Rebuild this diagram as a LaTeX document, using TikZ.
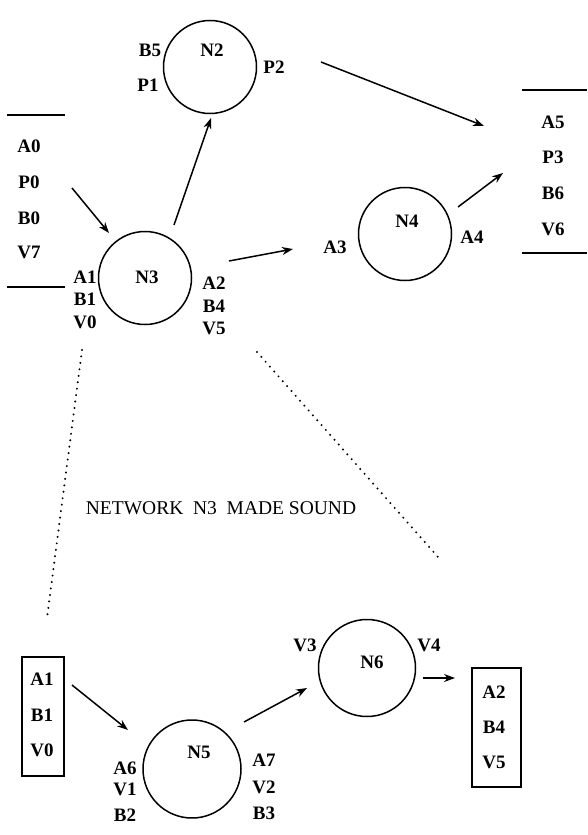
\documentclass[tikz,border=0pt]{standalone}
\usepackage{fontspec}
\setmainfont{Liberation Serif}
\usetikzlibrary{arrows.meta}
\begin{document}
\begin{tikzpicture}[x=1pt,y=-1pt,
  lbl/.style={font=\fontsize{19}{21}\selectfont\bfseries, inner sep=0pt},
  captext/.style={font=\fontsize{19.5}{21}\selectfont, inner sep=0pt},
  netnode/.style={circle, draw, line width=1.5pt, minimum size=93pt, inner sep=0pt},
  arr/.style={-{Stealth[length=11pt,width=8pt]}, line width=1.5pt},
  dotline/.style={line width=2.2pt, line cap=round, dash pattern=on 0pt off 6.5pt},
  rule/.style={line width=1.5pt},
  box/.style={draw, line width=1.5pt, inner sep=0pt}]
\useasboundingbox (0,0) rectangle (587,835);

% circles
\node[netnode] (n2) at (210,67) {};
\node[netnode] (n3) at (145,278) {};
\node[netnode] (n4) at (405,234) {};
\node[netnode, minimum size=98pt] (n5) at (192,769) {};
\node[netnode, minimum size=97pt] (n6) at (367,668) {};

% circle names
\node[lbl] (t2) at (212,50) {N2};
\node[lbl] (t3) at (147,277) {N3};
\node[lbl] (t4) at (407,221) {N4};
\node[lbl] (t5) at (199,752) {N5};
\node[lbl] (t6) at (372,662) {N6};

% N2 ports
\node[lbl] (b5) at (150,50) {B5};
\node[lbl] (p1) at (148,85) {P1};
\node[lbl] (p2) at (274,67) {P2};

% N3 ports
\node[lbl] (a1) at (85,277) {A1};
\node[lbl] (b1) at (85,299) {B1};
\node[lbl] (v0) at (85,322) {V0};
\node[lbl] (a2) at (214,283) {A2};
\node[lbl] (b4) at (214,306) {B4};
\node[lbl] (v5) at (214,328) {V5};

% N4 ports
\node[lbl] (a3) at (335,247) {A3};
\node[lbl] (a4) at (472,237) {A4};

% left list
\draw[rule] (7,115) -- (65,115);
\draw[rule] (7,287) -- (65,287);
\node[lbl] (a0) at (29,146) {A0};
\node[lbl] (p0) at (29,182) {P0};
\node[lbl] (b0) at (29,218) {B0};
\node[lbl] (v7) at (29,252) {V7};

% right list
\draw[rule] (522,90) -- (587,90);
\draw[rule] (522,253) -- (587,253);
\node[lbl] (a5) at (553,122) {A5};
\node[lbl] (p3) at (553,157) {P3};
\node[lbl] (b6) at (553,193) {B6};
\node[lbl] (v6) at (553,229) {V6};

% arrows top
\coordinate (s1) at (72,188);  \coordinate (e1) at (109,233);
\coordinate (s2) at (174,225); \coordinate (e2) at (211,118);
\coordinate (s3) at (229,261); \coordinate (e3) at (293,249);
\coordinate (s4) at (321,62);  \coordinate (e4) at (484,126);
\coordinate (s5) at (458,207); \coordinate (e5) at (503,173);
\draw[arr] (s1) -- (e1);
\draw[arr] (s2) -- (e2);
\draw[arr] (s3) -- (e3);
\draw[arr] (s4) -- (e4);
\draw[arr] (s5) -- (e5);

% dotted lines
\coordinate (d1s) at (82,350);  \coordinate (d1e) at (47,618);
\coordinate (d2s) at (257,352); \coordinate (d2e) at (438,557);
\draw[dotline] (d1s) -- (d1e);
\draw[dotline] (d2s) -- (d2e);

% caption
\node[captext] (caption) at (221,508) {NETWORK\hspace{0.5em}N3\hspace{0.5em}MADE SOUND};

% bottom left box
\node[box, minimum width=42pt, minimum height=119pt] (lbox) at (43,716.5) {};
\node[lbl] (ba1) at (42,679) {A1};
\node[lbl] (bb1) at (42,715) {B1};
\node[lbl] (bv0) at (42,750) {V0};

% bottom right box
\node[box, minimum width=49pt, minimum height=119pt] (rbox) at (496.5,727.5) {};
\node[lbl] (ra2) at (494,692) {A2};
\node[lbl] (rb4) at (494,727) {B4};
\node[lbl] (rv5) at (494,762) {V5};

% N5 ports
\node[lbl] (a6) at (125,768) {A6};
\node[lbl] (v1) at (125,789) {V1};
\node[lbl] (b2) at (125,815) {B2};
\node[lbl] (a7) at (264,760) {A7};
\node[lbl] (v2) at (264,787) {V2};
\node[lbl] (b3) at (264,813) {B3};

% N6 ports
\node[lbl] (v3) at (305,645) {V3};
\node[lbl] (v4) at (429,645) {V4};

% arrows bottom
\coordinate (s6) at (72,685);  \coordinate (e6) at (128,730);
\coordinate (s7) at (244,722); \coordinate (e7) at (307,688);
\coordinate (s8) at (423,678); \coordinate (e8) at (455,678);
\draw[arr] (s6) -- (e6);
\draw[arr] (s7) -- (e7);
\draw[arr, line width=1.1pt] (s8) -- (e8);
\end{tikzpicture}
\end{document}
